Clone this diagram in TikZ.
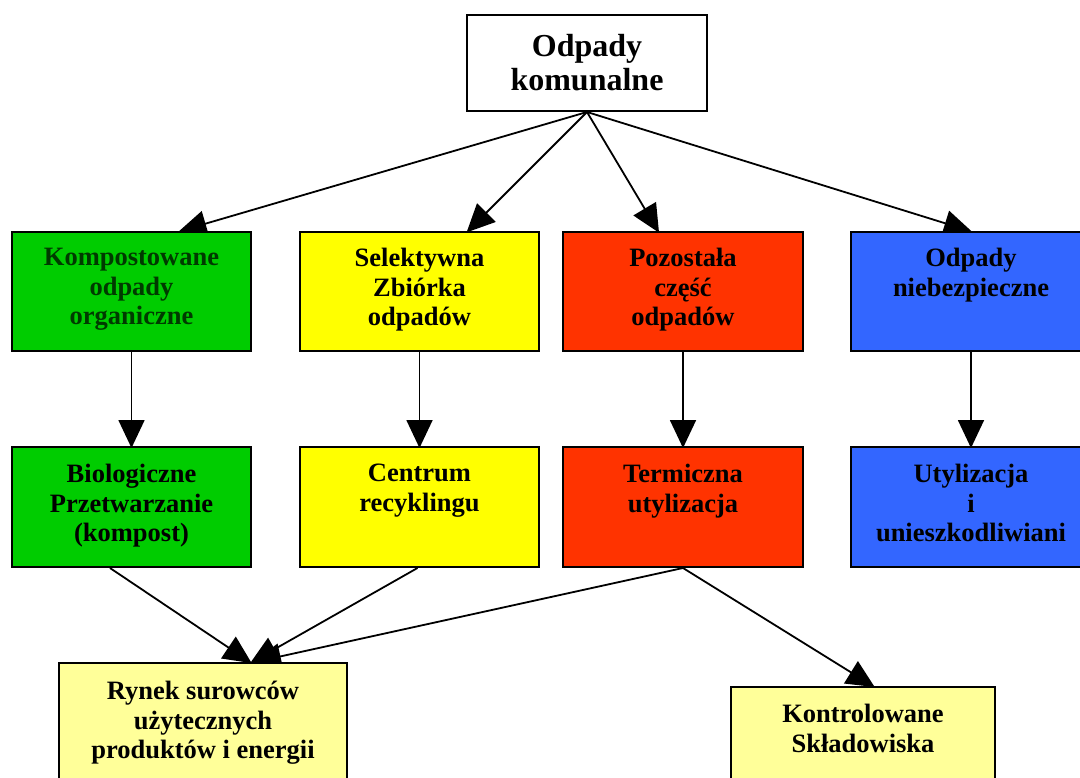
\documentclass[tikz,border=0pt]{standalone}
\usepackage{fontspec}
\setmainfont{Liberation Serif}
\usetikzlibrary{arrows.meta,backgrounds}
\definecolor{cgreen}{HTML}{00CC00}
\definecolor{cyellow}{HTML}{FFFF00}
\definecolor{cred}{HTML}{FF3300}
\definecolor{cblue}{HTML}{3366FF}
\definecolor{clight}{HTML}{FFFF99}
\definecolor{cdkgreen}{HTML}{003A00}
\tikzset{
  box/.style={draw=black, line width=2pt, rectangle, inner sep=0pt},
  rowbox/.style={box, minimum width=239pt, minimum height=119pt},
  txt/.style={font=\fontsize{26.5}{29.5}\selectfont\bfseries, align=center, inner sep=0pt, anchor=north},
  toptxt/.style={font=\fontsize{32}{34}\selectfont\bfseries, align=center, inner sep=0pt, anchor=north},
  arr/.style={line width=1.8pt, -{Triangle[length=28pt,width=26pt]}, shorten >=-2pt},
}
\begin{document}
\begin{tikzpicture}[x=1pt,y=-1pt]
\useasboundingbox (0,0) rectangle (1080,778);
\clip (0,0) rectangle (1080,778);
% top
\node[box, fill=white, minimum width=240pt, minimum height=96pt] (top) at (587,63) {};
\node[toptxt] (topt) at ([yshift=-20]top.north) {Odpady\\komunalne};
% row 1
\node[rowbox, fill=cgreen] (g1) at (131.5,291.5) {};
\node[rowbox, fill=cyellow] (y1) at (419.5,291.5) {};
\node[rowbox, fill=cred, minimum width=240pt] (r1) at (683,291.5) {};
\node[rowbox, fill=cblue, minimum width=240pt] (b1) at (971,291.5) {};
\node[txt, text=cdkgreen] (g1t) at ([yshift=-17]g1.north) {Kompostowane\\odpady\\organiczne};
\node[txt] (y1t) at ([yshift=-17]y1.north) {Selektywna\\Zbiórka\\odpadów};
\node[txt] (r1t) at ([yshift=-17]r1.north) {Pozostała\\część\\odpadów};
\node[txt] (b1t) at ([yshift=-17]b1.north) {Odpady\\niebezpieczne};
% row 2
\node[rowbox, fill=cgreen, minimum height=120pt] (g2) at (131.5,507) {};
\node[rowbox, fill=cyellow, minimum height=120pt] (y2) at (419.5,507) {};
\node[rowbox, fill=cred, minimum width=240pt, minimum height=120pt] (r2) at (683,507) {};
\node[rowbox, fill=cblue, minimum width=240pt, minimum height=120pt] (b2) at (971,507) {};
\node[txt] (g2t) at ([yshift=-18]g2.north) {Biologiczne\\Przetwarzanie\\(kompost)};
\node[txt] (y2t) at ([yshift=-18]y2.north) {Centrum\\recyklingu};
\node[txt] (r2t) at ([yshift=-18]r2.north) {Termiczna\\utylizacja};
\node[txt] (b2t) at ([yshift=-18]b2.north) {Utylizacja\\i\\unieszkodliwiani};
% bottom
\node[box, fill=clight, minimum width=288pt, minimum height=127pt] (rynek) at (203,726.5) {};
\node[box, fill=clight, minimum width=264pt, minimum height=113pt] (skl) at (863,743.5) {};
\node[txt] (rynekt) at ([yshift=-19]rynek.north) {Rynek surowców\\użytecznych\\produktów i energii};
\node[txt] (sklt) at ([yshift=-18]skl.north) {Kontrolowane\\Składowiska};
% connectors
\begin{scope}[on background layer]
\draw[arr] (top.south) -- ([xshift=49]g1.north);
\draw[arr] (top.south) -- ([xshift=48.5]y1.north);
\draw[arr] (top.south) -- ([xshift=-25]r1.north);
\draw[arr] (top.south) -- ([xshift=-1]b1.north);
\draw[arr] (g1.south) -- (g2.north);
\draw[arr] (y1.south) -- (y2.north);
\draw[arr] (r1.south) -- (r2.north);
\draw[arr] (b1.south) -- (b2.north);
\draw[arr] ([xshift=-21.5]g2.south) -- ([xshift=47]rynek.north);
\draw[arr] ([xshift=-2]y2.south) -- ([xshift=49]rynek.north);
\draw[arr] (r2.south) -- ([xshift=52]rynek.north);
\draw[arr] (r2.south) -- ([xshift=10]skl.north);
\end{scope}
\end{tikzpicture}
\end{document}
